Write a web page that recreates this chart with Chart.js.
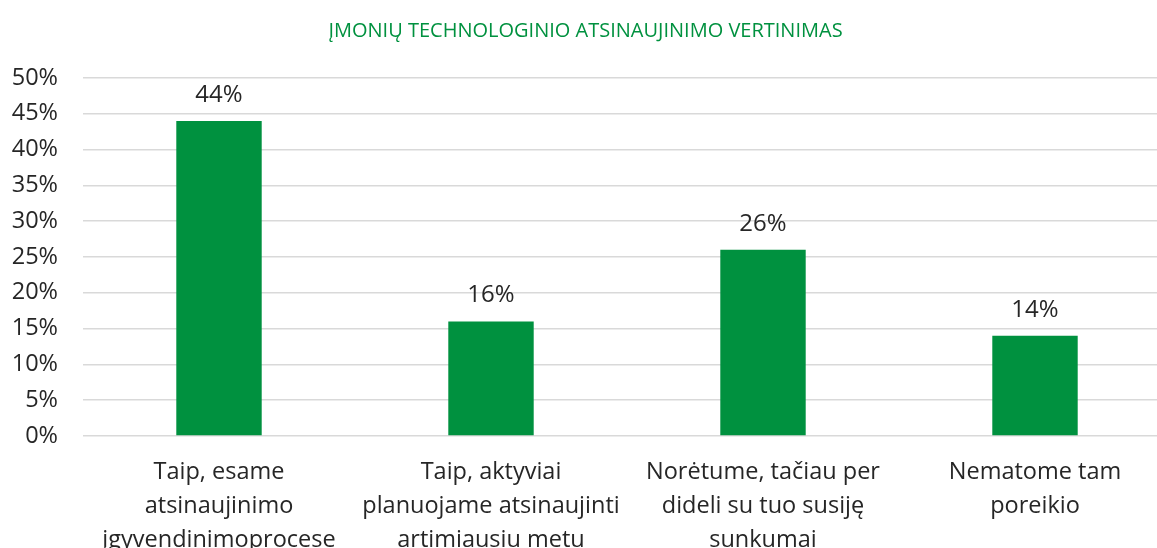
<!DOCTYPE html>
<html>
<head>
<meta charset="utf-8">
<script src="https://cdn.jsdelivr.net/npm/chart.js@4"></script>
<style>
  html, body { margin: 0; padding: 0; background: #fff; overflow: hidden; }
  .wrap { position: absolute; left: 0; top: 0; width: 1171px; height: 575px; }
</style>
</head>
<body>
<div class="wrap"><canvas id="chart"></canvas></div>
<script>
const titleText = 'ĮMONIŲ TECHNOLOGINIO ATSINAUJINIMO VERTINIMAS';
const categories = [
  ['Taip, esame', 'atsinaujinimo', 'įgyvendinimoprocese'],
  ['Taip, aktyviai', 'planuojame atsinaujinti', 'artimiausiu metu'],
  ['Norėtume, tačiau per', 'dideli su tuo susiję', 'sunkumai'],
  ['Nematome tam', 'poreikio']
];
const shares = [44, 16, 26, 14];
const yMax = 50;
const yStep = 5;

const green = '#00913f';
const textColor = '#262626';
const font = "'Open Sans', sans-serif";

const valueLabels = {
  id: 'valueLabels',
  afterDatasetsDraw(chart) {
    const ctx = chart.ctx;
    const meta = chart.getDatasetMeta(0);
    ctx.save();
    ctx.font = `24px ${font}`;
    ctx.fillStyle = textColor;
    ctx.textAlign = 'center';
    ctx.textBaseline = 'middle';
    meta.data.forEach((bar, i) => {
      ctx.fillText(shares[i] + '%', bar.x, bar.y - 26);
    });
    ctx.restore();
  }
};

new Chart(document.getElementById('chart'), {
  type: 'bar',
  data: {
    labels: categories,
    datasets: [{
      data: shares,
      backgroundColor: green,
      barPercentage: 0.314,
      categoryPercentage: 1
    }]
  },
  options: {
    responsive: true,
    maintainAspectRatio: false,
    animation: false,
    layout: { padding: 0 },
    plugins: {
      legend: { display: false },
      tooltip: { enabled: false },
      title: {
        display: true,
        text: titleText,
        color: green,
        font: { family: font, size: 20, weight: 'normal', lineHeight: 1.2 },
        padding: { top: 19, bottom: 35 }
      }
    },
    scales: {
      x: {
        grid: { display: false },
        border: { display: false },
        ticks: {
          color: textColor,
          font: { family: font, size: 23.5, lineHeight: 1.43 },
          padding: 12,
          maxRotation: 0,
          autoSkip: false
        },
        afterFit(scale) { scale.height = 139; }
      },
      y: {
        min: 0,
        max: yMax,
        grid: { color: '#d9d9d9', lineWidth: 1.5, drawTicks: false },
        border: { display: false },
        ticks: {
          stepSize: yStep,
          color: textColor,
          font: { family: font, size: 23.5 },
          padding: 25,
          callback: v => v + '%'
        },
        afterFit(scale) { scale.width = 83; }
      }
    }
  },
  plugins: [valueLabels]
});
</script>
</body>
</html>
